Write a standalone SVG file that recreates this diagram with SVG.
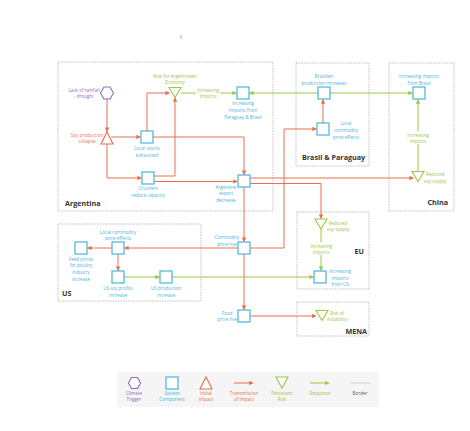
<svg xmlns="http://www.w3.org/2000/svg" width="470" height="431" viewBox="0 0 470 431">
  <defs>
    <style>
      .zone { fill: none; stroke: #b3b3b3; stroke-width: 0.8; stroke-dasharray: 1.6 1; }
      .zone-label { font-family: "Open Sans", "Liberation Sans", sans-serif; font-weight: 700; font-size: 7.2px; fill: #333; }
      .comp { fill: #fff; stroke: #4ab3dd; stroke-width: 1.2; }
      .impact { fill: #fff; stroke: #e8704c; stroke-width: 1.1; }
      .risk { fill: #fff; stroke: #9bc847; stroke-width: 1.1; }
      .trigger { fill: #fff; stroke: #8c6cc0; stroke-width: 1.1; }
      .tx { fill: none; stroke: #e8704c; stroke-width: 1; }
      .rsp { fill: none; stroke: #9bc847; stroke-width: 1; }
      text { font-family: "Open Sans", "Liberation Sans", sans-serif; font-size: 4.6px; text-anchor: middle; }
      .lb { fill: #4ab3dd; }
      .lo { fill: #e8704c; }
      .lg { fill: #9bc847; }
      .lp { fill: #8c6cc0; }
      .lk { fill: #555; }
      .start { text-anchor: start; }
    </style>
    <marker id="ao" viewBox="0 0 6 6" refX="5.5" refY="3" markerWidth="4.5" markerHeight="4.5" orient="auto" markerUnits="userSpaceOnUse">
      <path d="M0,0 L6,3 L0,6 Z" fill="#e8704c"/>
    </marker>
    <marker id="ag" viewBox="0 0 6 6" refX="5.5" refY="3" markerWidth="4.5" markerHeight="4.5" orient="auto" markerUnits="userSpaceOnUse">
      <path d="M0,0 L6,3 L0,6 Z" fill="#9bc847"/>
    </marker>
  </defs>

  <rect width="470" height="431" fill="#fff"/>
  <rect x="180.5" y="35" width="1.4" height="4" fill="#9fd3e6"/>

  <!-- regional borders -->
  <g id="regions">
    <rect class="zone" x="58" y="62" width="215" height="149"/>
    <text class="zone-label" x="65" y="206" style="text-anchor:start">Argentina</text>
    <rect class="zone" x="296" y="63" width="73" height="103"/>
    <text class="zone-label" x="302" y="160" style="text-anchor:start">Brasil &amp; Paraguay</text>
    <rect class="zone" x="389" y="63" width="65" height="148"/>
    <text class="zone-label" x="448" y="205" style="text-anchor:end">China</text>
    <rect class="zone" x="297" y="212" width="72" height="77"/>
    <text class="zone-label" x="364" y="254" style="text-anchor:end">EU</text>
    <rect class="zone" x="297" y="302" width="72" height="34"/>
    <text class="zone-label" x="367" y="334" style="text-anchor:end">MENA</text>
    <rect class="zone" x="58" y="224" width="143" height="77"/>
    <text class="zone-label" x="62" y="296" style="text-anchor:start">US</text>
  </g>

  <!-- connectors -->
  <g id="connectors">
    <!-- transmission of impact -->
    <path class="tx" d="M107,99 V131.5" marker-end="url(#ao)"/>
    <path class="tx" d="M111,137 H140.5" marker-end="url(#ao)"/>
    <path class="tx" d="M107,144 V178 H141.5" marker-end="url(#ao)"/>
    <path class="tx" d="M147,131 V93 H169.5" marker-end="url(#ao)"/>
    <path class="tx" d="M154,176 H175 V97.5" marker-end="url(#ao)"/>
    <path class="tx" d="M153,137 H244 V174.5" marker-end="url(#ao)"/>
    <path class="tx" d="M154,181.5 H237.5" marker-end="url(#ao)"/>
    <path class="tx" d="M250,178 H413.5" marker-end="url(#ao)"/>
    <path class="tx" d="M250,183.5 H321 V218.5" marker-end="url(#ao)"/>
    <path class="tx" d="M244,187 V241.5" marker-end="url(#ao)"/>
    <path class="tx" d="M250,248 H284 V129 H316.5" marker-end="url(#ao)"/>
    <path class="tx" d="M238,248 H124.5" marker-end="url(#ao)"/>
    <path class="tx" d="M112,248 H87.5" marker-end="url(#ao)"/>
    <path class="tx" d="M118,254 V270.5" marker-end="url(#ao)"/>
    <path class="tx" d="M244,254 V309.5" marker-end="url(#ao)"/>
    <path class="tx" d="M250,316 H316" marker-end="url(#ao)"/>
    <path class="tx" d="M323,123 V99.5" marker-end="url(#ao)"/>

    <!-- response -->
    <path class="rsp" d="M181,93 H236.5" marker-end="url(#ag)"/>
    <path class="rsp" d="M318,93 H249.5" marker-end="url(#ag)"/>
    <path class="rsp" d="M330,93 H412.5" marker-end="url(#ag)"/>
    <path class="rsp" d="M418,171 V99.5" marker-end="url(#ag)"/>
    <path class="rsp" d="M321,229 V270.5" marker-end="url(#ag)"/>
    <path class="rsp" d="M124,277 H159.5" marker-end="url(#ag)"/>
    <path class="rsp" d="M172,277 H313.5" marker-end="url(#ag)"/>

    <!-- labels sitting on response lines -->
    <rect x="196" y="87" width="24" height="13" fill="#fff"/>
    <text class="lg" x="208" y="91.5">Increasing</text>
    <text class="lg" x="208" y="98">imports</text>
    <rect x="406" y="131" width="24" height="13" fill="#fff"/>
    <text class="lg" x="418" y="136.5">Increasing</text>
    <text class="lg" x="418" y="143">imports</text>
    <rect x="309" y="242" width="24" height="13" fill="#fff"/>
    <text class="lg" x="321" y="247.5">Increasing</text>
    <text class="lg" x="321" y="254">imports</text>
  </g>

  <!-- Argentina -->
  <g id="drought">
    <polygon class="trigger" points="100.5,93 104,87 110,87 113.5,93 110,99 104,99"/>
    <text class="lp" x="84" y="91.5">Lack of rainfall</text>
    <text class="lp" x="84" y="98">- drought</text>
  </g>
  <g id="soy-collapse">
    <polygon class="impact" points="107,132 101,144 113,144"/>
    <text class="lo" x="87" y="136.5">Soy production</text>
    <text class="lo" x="87" y="143">collapse</text>
  </g>
  <g id="arg-risk">
    <polygon class="risk" points="169,87.5 181,87.5 175,97.5"/>
    <text class="lg" x="175" y="77.5">Risk for Argentinean</text>
    <text class="lg" x="175" y="84">Economy</text>
  </g>
  <g id="local-stocks">
    <rect class="comp" x="141" y="131" width="12" height="12"/>
    <text class="lb" x="147" y="149.5">Local stocks</text>
    <text class="lb" x="147" y="156.5">exhausted</text>
  </g>
  <g id="crushers">
    <rect class="comp" x="142" y="172" width="12" height="12"/>
    <text class="lb" x="148" y="189.5">Crushers</text>
    <text class="lb" x="148" y="197">reduce capacity</text>
  </g>
  <g id="pry-bra-imports">
    <rect class="comp" x="237" y="87" width="12" height="12"/>
    <text class="lb" x="243" y="104.5">Increasing</text>
    <text class="lb" x="243" y="111.5">imports from</text>
    <text class="lb" x="243" y="118.5">Paraguay &amp; Brasil</text>
  </g>
  <g id="export-decrease">
    <rect class="comp" x="238" y="175" width="12" height="12"/>
    <text class="lb" x="226" y="188.5">Argentine</text>
    <text class="lb" x="226" y="195">export</text>
    <text class="lb" x="226" y="201.5">decrease</text>
  </g>

  <!-- Brasil & Paraguay -->
  <g id="bra-production">
    <rect class="comp" x="318" y="87" width="12" height="12"/>
    <text class="lb" x="324" y="77.5">Brazilian</text>
    <text class="lb" x="324" y="84.5">production increases</text>
  </g>
  <g id="bra-price">
    <rect class="comp" x="317" y="123" width="12" height="12"/>
    <text class="lb" x="346" y="124.5">Local</text>
    <text class="lb" x="346" y="131.5">commodity</text>
    <text class="lb" x="346" y="138.5">price effects</text>
  </g>

  <!-- China -->
  <g id="china-imports">
    <rect class="comp" x="413" y="87" width="12" height="12"/>
    <text class="lb" x="419" y="77.5">Increasing imports</text>
    <text class="lb" x="419" y="84.5">from Brasil</text>
  </g>
  <g id="china-supply">
    <polygon class="risk" points="412,171.5 424,171.5 418,181.5"/>
    <text class="lg" x="435" y="175.5">Reduced</text>
    <text class="lg" x="435" y="182.5">soy supply</text>
  </g>

  <!-- EU -->
  <g id="eu-supply">
    <polygon class="risk" points="315,219 327,219 321,229"/>
    <text class="lg" x="338" y="224.5">Reduced</text>
    <text class="lg" x="338" y="231">soy supply</text>
  </g>
  <g id="eu-imports">
    <rect class="comp" x="314" y="271" width="12" height="12"/>
    <text class="lb" x="340" y="272.5">Increasing</text>
    <text class="lb" x="340" y="279.5">imports</text>
    <text class="lb" x="340" y="286">from US</text>
  </g>

  <!-- MENA -->
  <g id="mena-risk">
    <polygon class="risk" points="316,310.5 328,310.5 322,320.5"/>
    <text class="lg" x="337" y="314.5">Risk of</text>
    <text class="lg" x="337" y="321">instability</text>
  </g>

  <!-- global prices -->
  <g id="commodity-price">
    <rect class="comp" x="238" y="242" width="12" height="12"/>
    <text class="lb" x="227" y="238.5">Commodity</text>
    <text class="lb" x="227" y="245.5">price rise</text>
  </g>
  <g id="food-price">
    <rect class="comp" x="238" y="310" width="12" height="12"/>
    <text class="lb" x="227" y="314.5">Food</text>
    <text class="lb" x="227" y="321">price rise</text>
  </g>

  <!-- US -->
  <g id="us-price">
    <rect class="comp" x="112" y="242" width="12" height="12"/>
    <text class="lb" x="118" y="233.5">Local commodity</text>
    <text class="lb" x="118" y="240">price effects</text>
  </g>
  <g id="us-feed">
    <rect class="comp" x="75" y="242" width="12" height="12"/>
    <text class="lb" x="81" y="260.5">Feed prices</text>
    <text class="lb" x="81" y="267">for poultry</text>
    <text class="lb" x="81" y="273.5">industry</text>
    <text class="lb" x="81" y="280.5">increase</text>
  </g>
  <g id="us-profits">
    <rect class="comp" x="112" y="271" width="12" height="12"/>
    <text class="lb" x="118" y="289.5">US soy profits</text>
    <text class="lb" x="118" y="296.5">increase</text>
  </g>
  <g id="us-production">
    <rect class="comp" x="160" y="271" width="12" height="12"/>
    <text class="lb" x="166" y="289.5">US production</text>
    <text class="lb" x="166" y="296.5">increase</text>
  </g>

  <!-- legend -->
  <g id="legend">
    <rect x="117" y="372" width="262" height="35" fill="#f5f5f5"/>
    <polygon class="trigger" points="128.5,383 131.5,377.5 137.5,377.5 140.5,383 137.5,388.5 131.5,388.5"/>
    <text class="lp" x="134" y="394.5">Climate</text>
    <text class="lp" x="134" y="401">Trigger</text>
    <rect class="comp" x="166" y="377" width="12" height="12"/>
    <text class="lb" x="172" y="394.5">System</text>
    <text class="lb" x="172" y="401">Component</text>
    <polygon class="impact" points="206,377 200,389 212,389"/>
    <text class="lo" x="206" y="394.5">Initial</text>
    <text class="lo" x="206" y="401">Impact</text>
    <path class="tx" d="M234,383 H253" marker-end="url(#ao)"/>
    <text class="lo" x="244" y="394.5">Transmission</text>
    <text class="lo" x="244" y="401">of Impact</text>
    <polygon class="risk" points="276,377 288,377 282,388"/>
    <text class="lg" x="282" y="394.5">Persistent</text>
    <text class="lg" x="282" y="401">Risk</text>
    <path class="rsp" d="M310,383 H329" marker-end="url(#ag)"/>
    <text class="lg" x="320" y="394.5">Response</text>
    <line x1="351" y1="383" x2="370" y2="383" stroke="#c4c4c4" stroke-width="0.8"/>
    <text class="lk" x="360" y="394.5">Border</text>
  </g>
</svg>
